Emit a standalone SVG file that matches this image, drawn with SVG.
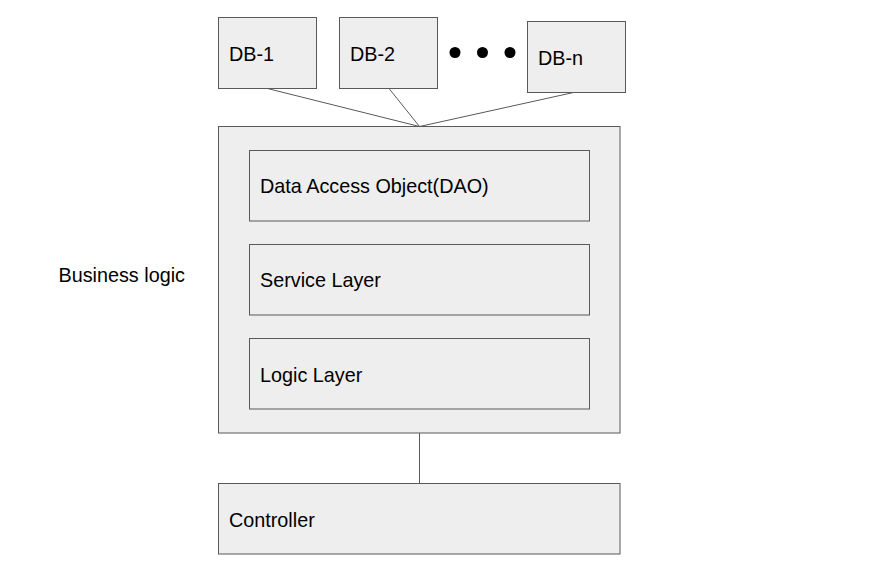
<svg xmlns="http://www.w3.org/2000/svg" width="894" height="561" viewBox="0 0 894 561">
<style>
.box{fill:#eeeeee;stroke:#595959;stroke-width:1}
.t{font-family:"Liberation Sans",Arial,sans-serif;font-size:19.8px;fill:#000}
.c{stroke:#595959;stroke-width:1;fill:none}
</style>
<rect width="894" height="561" fill="#fff"/>
<g id="connectors">
<line class="c" x1="267.5" y1="88.5" x2="419.5" y2="126.5"/>
<line class="c" x1="389" y1="88.5" x2="419.5" y2="126.5"/>
<line class="c" x1="573.5" y1="92.5" x2="419.5" y2="126.5"/>
<line class="c" x1="419.5" y1="433" x2="419.5" y2="483"/>
</g>
<g id="db1"><rect class="box" x="218.5" y="17.5" width="98" height="71"/><text class="t" x="229" y="60.5">DB-1</text></g>
<g id="db2"><rect class="box" x="339.5" y="17.5" width="98" height="71"/><text class="t" x="350" y="60.5">DB-2</text></g>
<g id="dots"><circle cx="455" cy="52.5" r="5.5"/><circle cx="482.5" cy="52.5" r="5.5"/><circle cx="510" cy="52.5" r="5.5"/></g>
<g id="dbn"><rect class="box" x="527.5" y="21.5" width="98" height="71"/><text class="t" x="538" y="64.5">DB-n</text></g>
<g id="business"><rect class="box" x="218.5" y="126.5" width="401.5" height="306.5"/></g>
<g id="dao"><rect class="box" x="249.5" y="150.5" width="340" height="70.5"/><text class="t" x="260" y="193">Data Access Object(DAO)</text></g>
<g id="service"><rect class="box" x="249.5" y="244.5" width="340" height="70.5"/><text class="t" x="260" y="287">Service Layer</text></g>
<g id="logic"><rect class="box" x="249.5" y="338.5" width="340" height="70.5"/><text class="t" x="260" y="382">Logic Layer</text></g>
<g id="controller"><rect class="box" x="218.5" y="483.5" width="401.5" height="70.5"/><text class="t" x="229" y="526.5">Controller</text></g>
<g id="label"><text class="t" x="58.5" y="282">Business logic</text></g>
</svg>
